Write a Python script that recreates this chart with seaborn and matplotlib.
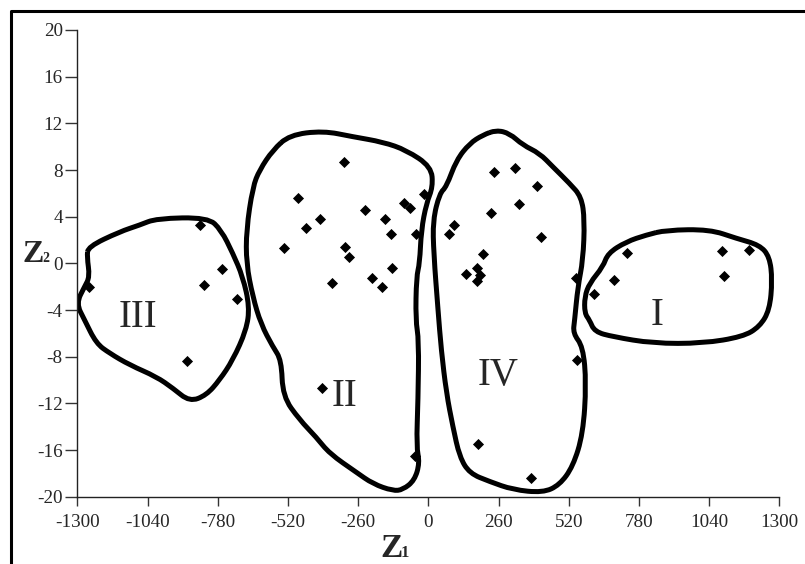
import matplotlib

matplotlib.use("Agg")
import matplotlib.pyplot as plt
import pandas as pd
import seaborn as sns
from matplotlib.lines import Line2D
from matplotlib.patches import PathPatch
from matplotlib.path import Path

# ---------------------------------------------------------------------------
# Data read off the figure (Z1, Z2 scores per observation, by cluster)
# ---------------------------------------------------------------------------
c1_z1 = [613, 689, 736, 1087, 1186, 1095]
c1_z2 = [-2.66, -1.40, 0.86, 1.05, 1.11, -1.06]

c2_z1 = [-311, -481, -401, -454, -533, -309, -295, -236, -161, -140,
         -133, -209, -173, -356, -90, -67, -16, -47, -393, -48]
c2_z2 = [8.7, 5.57, 3.8, 3.0, 1.31, 1.40, 0.57, 4.54, 3.8, 2.54,
         -0.43, -1.29, -2.03, -1.72, 5.14, 4.71, 5.96, 2.51, -10.7, -16.5]

c3_z1 = [-847, -764, -830, -709, -893, -1258]
c3_z2 = [3.3, -0.51, -1.86, -3.06, -8.37, -2.06]

c4_z1 = [242, 321, 402, 337, 234, 418, 75, 95, 202, 141, 180, 193, 181,
         548, 550, 183, 381]
c4_z2 = [7.8, 8.2, 6.6, 5.05, 4.34, 2.28, 2.54, 3.26, 0.80, -0.89, -0.37,
         -1.03, -1.54, -1.29, -8.3, -15.5, -18.4]

# hand-drawn cluster outlines (control points), in data units
out1_z1 = [881, 1042, 1141, 1227, 1264, 1274, 1264, 1227, 1165, 1017, 832,
           684, 616, 597, 579, 579, 597, 647, 665, 733, 807]
out1_z2 = [2.85, 2.91, 2.14, 1.57, 0.57, -1.43, -4.0, -5.43, -6.29, -6.86,
           -6.86, -6.29, -5.86, -4.86, -4.28, -2.86, -1.71, -0.29, 0.86,
           1.85, 2.43]

out2_z1 = [-514, -390, -279, -168, -81, 11, 17, -7, -26, -32, -44, -47, -35,
           -38, -44, -32, -51, -94, -131, -205, -267, -366, -415, -477, -539,
           -544, -576, -620, -650, -674, -674, -650, -625, -576]
out2_z2 = [11.0, 11.36, 10.85, 10.4, 9.7, 8.28, 6.56, 5.14, 2.85, 0.0, -1.15,
           -4.86, -6.57, -11.7, -15.7, -17.1, -18.6, -19.4, -19.5, -18.9,
           -17.9, -16.3, -14.9, -13.4, -11.4, -8.29, -7.14, -5.2, -2.86, 0.0,
           2.85, 6.56, 8.0, 9.7]

out3_z1 = [-1260, -1143, -1069, -1007, -816, -767, -724, -687, -662, -674,
           -724, -773, -822, -884, -946, -1007, -1106, -1180, -1230, -1273,
           -1304, -1273, -1254, -1264]
out3_z2 = [1.42, 2.71, 3.28, 3.85, 3.94, 2.85, 0.86, -1.15, -3.72, -5.72,
           -8.29, -10.0, -11.3, -11.86, -10.7, -9.72, -8.71, -7.71, -6.86,
           -4.86, -3.43, -2.0, -1.15, 0.57]

out4_z1 = [252, 301, 350, 412, 461, 523, 567, 579, 573, 554, 542, 536, 573,
           585, 573, 536, 486, 424, 313, 227, 153, 116, 91, 67, 48, 36, 20,
           17, 42, 67, 104, 153, 202]
out4_z2 = [11.42, 11.14, 10.14, 9.43, 8.28, 6.86, 5.71, 3.71, 0.28, -2.0,
           -4.86, -6.0, -7.14, -10.3, -14.6, -17.4, -19.0, -19.66, -19.4,
           -18.7, -18.0, -16.6, -14.0, -11.1, -7.43, -4.0, 0.86, 3.7, 6.0,
           6.56, 8.85, 10.28, 11.0]

labels = ["I", "II", "III", "IV"]
label_z1 = [847, -310, -1077, 259]
label_z2 = [-4.5, -11.4, -4.6, -9.6]

x_ticks = list(range(-1300, 1301, 260))
y_ticks = list(range(-20, 21, 4))

# ---------------------------------------------------------------------------
sns.set_style("white")
plt.rcParams["font.family"] = ["Liberation Serif", "DejaVu Serif"]
plt.rcParams["axes.unicode_minus"] = False


def smooth_outline(xs, ys):
    """Closed quadratic B-spline path: the drawn points act as control points."""
    pts = list(zip(xs, ys))
    n = len(pts)
    mid = lambda a, b: ((a[0] + b[0]) / 2, (a[1] + b[1]) / 2)
    verts = [mid(pts[-1], pts[0])]
    codes = [Path.MOVETO]
    for i in range(n):
        verts += [pts[i], mid(pts[i], pts[(i + 1) % n])]
        codes += [Path.CURVE3, Path.CURVE3]
    return Path(verts, codes)


pts = pd.DataFrame({
    "Z1": c1_z1 + c2_z1 + c3_z1 + c4_z1,
    "Z2": c1_z2 + c2_z2 + c3_z2 + c4_z2,
})

W, H = 805, 564
fig = plt.figure(figsize=(W / 100, H / 100), dpi=100)
ax = fig.add_axes([77.3 / W, 67.3 / H, 702 / W, 466.7 / H])

for ox, oy in [(out1_z1, out1_z2), (out2_z1, out2_z2),
               (out3_z1, out3_z2), (out4_z1, out4_z2)]:
    ax.add_patch(PathPatch(smooth_outline(ox, oy), facecolor="none",
                           edgecolor="black", lw=3.6, joinstyle="round",
                           zorder=2))

sns.scatterplot(data=pts, x="Z1", y="Z2", marker="D", color="black",
                s=32, linewidth=0, ax=ax, zorder=3)

for lab, lx, ly in zip(labels, label_z1, label_z2):
    ax.text(lx, ly, lab, fontsize=28, ha="center", va="center")

ax.set_xlim(-1300, 1300)
ax.set_ylim(-20, 20)
ax.set_xticks(x_ticks)
ax.set_yticks(y_ticks)
ax.set_xlabel("")
ax.set_ylabel("")
for side in ["top", "right"]:
    ax.spines[side].set_visible(False)
for side in ["left", "bottom"]:
    ax.spines[side].set_color("#222222")
    ax.spines[side].set_linewidth(1.0)
ax.tick_params(axis="x", direction="out", length=6.5, width=1.0,
               color="#333333", labelsize=13.8, pad=6, bottom=True)
ax.tick_params(axis="y", direction="out", length=8.5, width=1.0,
               color="#333333", labelsize=13.8, pad=2, left=True)

# axis titles: bold Z with a small digit on the baseline
fig.text(380 / W, 1 - 557 / H, "Z", fontsize=24, fontweight="bold",
         ha="left", va="baseline")
fig.text(401 / W, 1 - 557 / H, "1", fontsize=12, fontweight="bold",
         ha="left", va="baseline")
fig.text(22 / W, 1 - 262 / H, "Z", fontsize=23, fontweight="bold",
         ha="left", va="baseline")
fig.text(42 / W, 1 - 262 / H, "2", fontsize=10, fontweight="bold",
         ha="left", va="baseline")

# frame round the figure (cut off at right and bottom)
fx0, fy1 = 11 / W, 1 - 11 / H
fig.add_artist(Line2D([fx0, fx0, 1.0], [0.0, fy1, fy1], color="black",
                      lw=2.2, transform=fig.transFigure))

fig.savefig("out.png", dpi=100)
